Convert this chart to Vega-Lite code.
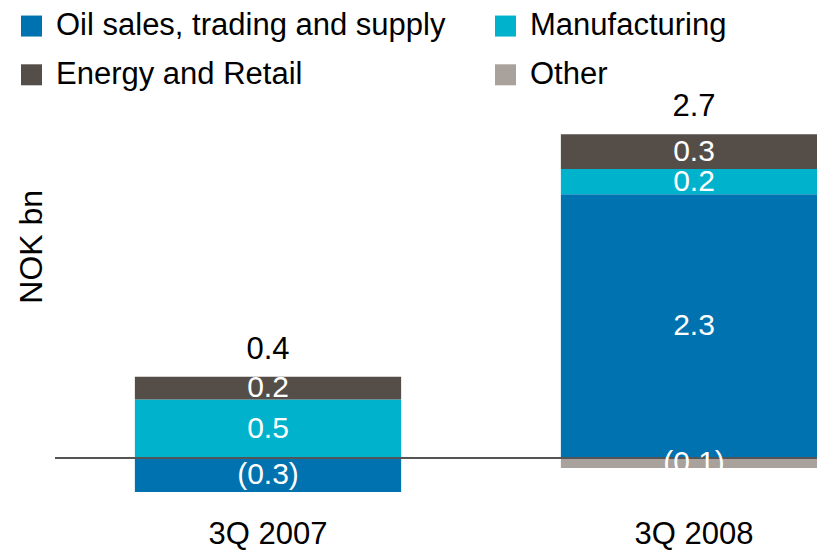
{
  "$schema": "https://vega.github.io/schema/vega-lite/v6.json",
  "autosize": "none",
  "padding": {"left": 55, "top": 122.3, "right": 0, "bottom": 35.3},
  "width": 762,
  "height": 392.4,
  "config": {
    "view": {"stroke": null},
    "font": "Liberation Sans"
  },
  "data": {
    "values": [
      {"quarter": "3Q 2007", "segment": "Oil sales, trading and supply", "order": 1, "value": -0.28, "label": "(0.3)", "total": "0.4"},
      {"quarter": "3Q 2007", "segment": "Manufacturing", "order": 2, "value": 0.49, "label": "0.5", "total": "0.4"},
      {"quarter": "3Q 2007", "segment": "Energy and Retail", "order": 3, "value": 0.19, "label": "0.2", "total": "0.4"},
      {"quarter": "3Q 2008", "segment": "Oil sales, trading and supply", "order": 1, "value": 2.2, "label": "2.3", "total": "2.7"},
      {"quarter": "3Q 2008", "segment": "Manufacturing", "order": 2, "value": 0.21, "label": "0.2", "total": "2.7"},
      {"quarter": "3Q 2008", "segment": "Energy and Retail", "order": 3, "value": 0.29, "label": "0.3", "total": "2.7"},
      {"quarter": "3Q 2008", "segment": "Other", "order": 4, "value": -0.08, "label": "(0.1)", "total": "2.7"}
    ]
  },
  "encoding": {
    "x": {
      "field": "quarter",
      "type": "nominal",
      "scale": {"range": [0, 852], "paddingInner": 0.375, "paddingOuter": 0.1875},
      "axis": {
        "title": null,
        "domain": false,
        "ticks": false,
        "labelAngle": 0,
        "labelFontSize": 31,
        "labelColor": "#000000",
        "labelPadding": 5,
        "labelBaseline": "top"
      }
    }
  },
  "layer": [
    {
      "transform": [
        {"stack": "value", "groupby": ["quarter"], "sort": [{"field": "order", "order": "ascending"}], "offset": "zero", "as": ["v0", "v1"]}
      ],
      "mark": {"type": "bar", "clip": true},
      "encoding": {
        "y": {
          "field": "v0",
          "type": "quantitative",
          "scale": {"domain": [-0.47, 2.8], "nice": false, "zero": false},
          "axis": {
            "title": "NOK bn",
            "labels": false,
            "ticks": false,
            "domain": false,
            "grid": false,
            "titleFontSize": 32,
            "titleFontWeight": "normal",
            "titleColor": "#000000",
            "titleBaseline": "alphabetic",
            "titleX": -14,
            "titleY": 124
          }
        },
        "y2": {"field": "v1"},
        "color": {
          "field": "segment",
          "type": "nominal",
          "scale": {
            "domain": ["Oil sales, trading and supply", "Energy and Retail", "Manufacturing", "Other"],
            "range": ["#0072B0", "#554E48", "#00B2CC", "#A9A19C"]
          },
          "legend": {
            "title": null,
            "orient": "none",
            "legendX": -39,
            "legendY": -112,
            "padding": 0,
            "columns": 2,
            "columnPadding": 44,
            "rowPadding": 17,
            "symbolType": "square",
            "symbolSize": 441,
            "symbolStrokeWidth": 0,
            "symbolOpacity": 1,
            "labelFontSize": 31,
            "labelColor": "#000000",
            "labelOffset": 9,
            "labelLimit": 600
          }
        },
        "order": {"field": "order"}
      }
    },
    {
      "mark": {"type": "rule", "color": "#555555", "strokeWidth": 1.5},
      "encoding": {"y": {"datum": 0, "type": "quantitative"}, "x": null}
    },
    {
      "transform": [
        {"stack": "value", "groupby": ["quarter"], "sort": [{"field": "order", "order": "ascending"}], "offset": "zero", "as": ["v0", "v1"]},
        {"calculate": "(datum.v0 + datum.v1) / 2", "as": "mid"}
      ],
      "mark": {"type": "text", "color": "#FFFFFF", "fontSize": 30, "baseline": "middle", "align": "center"},
      "encoding": {
        "y": {"field": "mid", "type": "quantitative"},
        "text": {"field": "label"}
      }
    },
    {
      "transform": [
        {"filter": "datum.value > 0"},
        {"aggregate": [{"op": "sum", "field": "value", "as": "top"}], "groupby": ["quarter", "total"]}
      ],
      "mark": {"type": "text", "color": "#000000", "fontSize": 31, "baseline": "alphabetic", "align": "center", "dy": -18},
      "encoding": {
        "y": {"field": "top", "type": "quantitative"},
        "text": {"field": "total"}
      }
    }
  ]
}
